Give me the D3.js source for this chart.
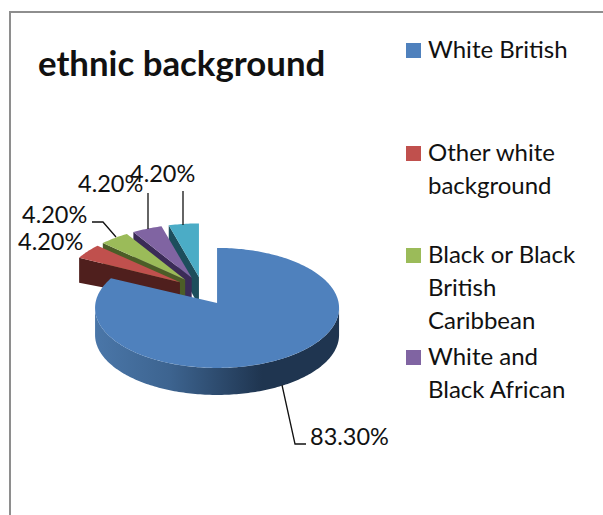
<!DOCTYPE html>
<html><head><meta charset="utf-8">
<script src="https://cdn.jsdelivr.net/npm/d3@7"></script>
<style>html,body{margin:0;padding:0;background:#fff}svg{display:block}text{font-family:Lato,"Open Sans",sans-serif;fill:#111}</style>
</head><body><svg id="c" width="603" height="515"></svg>
<script>
const titleText = "ethnic background";
const values = [83.3, 4.2, 4.2, 4.2, 4.2];
const valueLabels = ["83.30%", "4.20%", "4.20%", "4.20%", "4.20%"];
const legendLines = [["White British"], ["Other white", "background"], ["Black or Black", "British", "Caribbean"], ["White and", "Black African"]];
const topColors = ["#4f81bd", "#c0504d", "#9bbb59", "#8064a2", "#4bacc6"];
const wallColors = ["#1f3550", "#4f1f1d", "#4c5d27", "#3b2b57", "#1d4e5c"];

const svg = d3.select("#c");
svg.append("path").attr("d", "M10,515V12H603").attr("fill", "none").attr("stroke", "#8e8e8e").attr("stroke-width", 2);

const defs = svg.append("defs");
const grad = defs.append("linearGradient").attr("id", "wall").attr("gradientUnits", "userSpaceOnUse")
  .attr("x1", 96).attr("x2", 340).attr("y1", 0).attr("y2", 0);
[[0, "#4a76a8"], [0.3, "#3d6490"], [0.68, "#1f3550"], [1, "#1f3550"]].forEach(s =>
  grad.append("stop").attr("offset", s[0]).attr("stop-color", s[1]));

const rx = 122, ry = 60, depth = 27, explode = 0.234, c = [202.7, 290.8];
const slices = d3.pie().sort(null)(values);
const line = d3.line();
function apex(s) {
  const m = (s.startAngle + s.endAngle) / 2;
  return [c[0] + explode * rx * Math.sin(m), c[1] - explode * ry * Math.cos(m)];
}
function rim(a0, ang, k, off) { return [a0[0] + k * rx * Math.sin(ang), a0[1] + off - k * ry * Math.cos(ang)]; }
function arcPts(a0, from, to, k, off) {
  const n = Math.max(2, Math.ceil(Math.abs(to - from) / 0.02));
  return d3.range(n + 1).map(i => rim(a0, from + (to - from) * i / n, k, off));
}
const down = p => [p[0], p[1] + depth];

// small slices, back to front
[4, 3, 2, 1].forEach(i => {
  const s = slices[i], a = apex(s), k = 0.95, off = 3.5;
  const d = depth - 2;
  const e = rim(a, s.startAngle, k, off);
  svg.append("path").attr("fill", wallColors[i])
    .attr("d", line([a, e, [e[0], e[1] + d], [a[0], a[1] + d - 8 + i * 3]]) + "Z");
  svg.append("path").attr("fill", topColors[i])
    .attr("d", line([a, ...arcPts(a, s.startAngle, s.endAngle, k, off)]) + "Z");
});

// main slice
{
  const s = slices[0], a = apex(s);
  const front = arcPts(a, Math.PI / 2, Math.PI * 1.5, 1, 5);
  svg.append("path").attr("fill", "url(#wall)")
    .attr("d", line([...front, ...front.slice().reverse().map(down)]) + "Z");
  svg.append("path").attr("fill", topColors[0])
    .attr("d", line([a, ...arcPts(a, s.startAngle, s.endAngle, 1, 5)]) + "Z");
}

// leader lines
const leaders = [
  [[282, 385], [295, 444], [306, 444]],
  [[92, 222], [103, 222], [116, 237]],
  [[148, 193], [148, 229]],
  [[183, 191], [183, 225]]
];
leaders.forEach(l => svg.append("path").attr("d", line(l)).attr("fill", "none").attr("stroke", "#111").attr("stroke-width", 1.3));

// value labels
const labelPos = [[310, 445], [18, 250], [22, 223], [78, 192], [130, 182]];
valueLabels.forEach((t, i) => svg.append("text").attr("x", labelPos[i][0]).attr("y", labelPos[i][1]).attr("font-size", 23.5).text(t));

// title
svg.append("text").attr("x", 38).attr("y", 76).attr("font-size", 34.8).attr("font-weight", 700).text(titleText);

// legend
const legendY = [58, 161, 263, 365];
legendLines.forEach((lines, i) => {
  svg.append("rect").attr("x", 406).attr("y", legendY[i] - 15).attr("width", 15).attr("height", 15).attr("fill", topColors[i]);
  lines.forEach((t, j) => svg.append("text").attr("x", 428).attr("y", legendY[i] + j * 33).attr("font-size", 24).text(t));
});
</script></body></html>
